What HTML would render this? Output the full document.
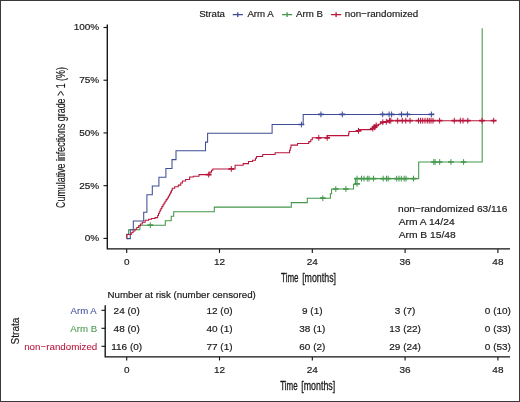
<!DOCTYPE html>
<html><head><meta charset="utf-8"><title>Cumulative infections</title>
<style>
html,body{margin:0;padding:0;background:#fff;}
body{width:520px;height:402px;overflow:hidden;}
svg{display:block;font-family:"Liberation Sans",sans-serif;will-change:transform;}
</style></head><body>
<svg width="520" height="402" viewBox="0 0 520 402">
<rect x="0" y="0" width="520" height="402" fill="#fff"/>
<rect x="0.5" y="0.5" width="519" height="401" fill="none" stroke="#3a3a3a" stroke-width="1"/>
<text x="199.16" y="17.10" font-size="9.9" fill="#1a1a1a" textLength="25.83" lengthAdjust="spacingAndGlyphs" stroke="#1a1a1a" stroke-width="0.18">Strata</text>
<path d="M232.7,14.6h10.2M237.79999999999998,12.2v4.8" stroke="#3F4D98" stroke-width="1.3" fill="none"/>
<text x="247.38" y="17.10" font-size="9.9" fill="#1a1a1a" textLength="26.44" lengthAdjust="spacingAndGlyphs" stroke="#1a1a1a" stroke-width="0.18">Arm A</text>
<path d="M282.0,14.6h10.2M287.1,12.2v4.8" stroke="#43984A" stroke-width="1.3" fill="none"/>
<text x="295.98" y="17.10" font-size="9.9" fill="#1a1a1a" textLength="26.92" lengthAdjust="spacingAndGlyphs" stroke="#1a1a1a" stroke-width="0.18">Arm B</text>
<path d="M331.0,14.6h10.2M336.1,12.2v4.8" stroke="#B8163C" stroke-width="1.3" fill="none"/>
<text x="344.75" y="17.10" font-size="9.9" fill="#1a1a1a" textLength="73.48" lengthAdjust="spacingAndGlyphs" stroke="#1a1a1a" stroke-width="0.18">non−randomized</text>
<path d="M107.3,24.5V248.9H510" stroke="#111" stroke-width="1.35" fill="none"/>
<path d="M103.5,238.40H107.3" stroke="#111" stroke-width="1.1"/>
<text x="84.80" y="241.30" font-size="9.5" fill="#1a1a1a" textLength="14.45" lengthAdjust="spacingAndGlyphs" stroke="#1a1a1a" stroke-width="0.18">0%</text>
<path d="M103.5,185.68H107.3" stroke="#111" stroke-width="1.1"/>
<text x="79.24" y="188.58" font-size="9.5" fill="#1a1a1a" textLength="20.01" lengthAdjust="spacingAndGlyphs" stroke="#1a1a1a" stroke-width="0.18">25%</text>
<path d="M103.5,132.95H107.3" stroke="#111" stroke-width="1.1"/>
<text x="79.24" y="135.85" font-size="9.5" fill="#1a1a1a" textLength="20.01" lengthAdjust="spacingAndGlyphs" stroke="#1a1a1a" stroke-width="0.18">50%</text>
<path d="M103.5,80.22H107.3" stroke="#111" stroke-width="1.1"/>
<text x="79.24" y="83.12" font-size="9.5" fill="#1a1a1a" textLength="20.01" lengthAdjust="spacingAndGlyphs" stroke="#1a1a1a" stroke-width="0.18">75%</text>
<path d="M103.5,27.50H107.3" stroke="#111" stroke-width="1.1"/>
<text x="73.68" y="30.40" font-size="9.5" fill="#1a1a1a" textLength="25.58" lengthAdjust="spacingAndGlyphs" stroke="#1a1a1a" stroke-width="0.18">100%</text>
<path d="M126.70,248.9V252.9" stroke="#111" stroke-width="1.1"/>
<text x="123.92" y="265.00" font-size="9.6" fill="#1a1a1a" textLength="5.56" lengthAdjust="spacingAndGlyphs" stroke="#1a1a1a" stroke-width="0.18">0</text>
<path d="M219.50,248.9V252.9" stroke="#111" stroke-width="1.1"/>
<text x="213.94" y="265.00" font-size="9.6" fill="#1a1a1a" textLength="11.12" lengthAdjust="spacingAndGlyphs" stroke="#1a1a1a" stroke-width="0.18">12</text>
<path d="M312.30,248.9V252.9" stroke="#111" stroke-width="1.1"/>
<text x="306.74" y="265.00" font-size="9.6" fill="#1a1a1a" textLength="11.12" lengthAdjust="spacingAndGlyphs" stroke="#1a1a1a" stroke-width="0.18">24</text>
<path d="M405.10,248.9V252.9" stroke="#111" stroke-width="1.1"/>
<text x="399.54" y="265.00" font-size="9.6" fill="#1a1a1a" textLength="11.12" lengthAdjust="spacingAndGlyphs" stroke="#1a1a1a" stroke-width="0.18">36</text>
<path d="M497.90,248.9V252.9" stroke="#111" stroke-width="1.1"/>
<text x="492.34" y="265.00" font-size="9.6" fill="#1a1a1a" textLength="11.12" lengthAdjust="spacingAndGlyphs" stroke="#1a1a1a" stroke-width="0.18">48</text>
<text x="281.12" y="282.20" font-size="12.2" fill="#1a1a1a" textLength="17.43" lengthAdjust="spacingAndGlyphs" stroke="#1a1a1a" stroke-width="0.3">Time</text>
<text x="302.17" y="282.20" font-size="12.2" fill="#1a1a1a" textLength="33.85" lengthAdjust="spacingAndGlyphs" stroke="#1a1a1a" stroke-width="0.3">[months]</text>
<g transform="translate(65.4,137.6) rotate(-90)"><text x="-70.34" y="0.00" font-size="12.3" fill="#1a1a1a" textLength="140.79" lengthAdjust="spacingAndGlyphs" stroke="#1a1a1a" stroke-width="0.15">Cumulative infections grade &gt; 1 (%)</text></g>
<path d="M126.70,238.60H127.00V234.20H128.60V229.80H139.90V225.20H165.30V220.80H171.20V216.20H173.70V211.70H214.30V207.10H291.30V202.60H307.30V198.20H330.40V193.80H331.60V189.00H353.50V184.20H355.40V178.60H418.70V162.00H482.20V28.20" stroke="#43984A" stroke-width="1.05" fill="none"/>
<path d="M147.40,225.20h5.80M319.90,198.20h5.80M332.90,189.00h5.80M343.00,189.00h5.80M354.10,183.80h5.80M354.10,178.60h5.80M358.60,178.60h5.80M361.10,178.60h5.80M364.40,178.60h5.80M366.10,178.60h5.80M370.60,178.60h5.80M380.30,178.60h5.80M383.60,178.60h5.80M385.30,178.60h5.80M393.80,178.60h5.80M396.10,178.60h5.80M398.40,178.60h5.80M401.30,178.60h5.80M403.10,178.60h5.80M410.60,178.60h5.80M430.90,162.00h5.80M432.20,162.00h5.80M436.80,162.00h5.80M448.00,162.00h5.80M460.70,162.00h5.80" stroke="#43984A" stroke-width="1.7" fill="none"/><path d="M150.30,222.30v5.80M322.80,195.30v5.80M335.80,186.10v5.80M345.90,186.10v5.80M357.00,180.90v5.80M357.00,175.70v5.80M361.50,175.70v5.80M364.00,175.70v5.80M367.30,175.70v5.80M369.00,175.70v5.80M373.50,175.70v5.80M383.20,175.70v5.80M386.50,175.70v5.80M388.20,175.70v5.80M396.70,175.70v5.80M399.00,175.70v5.80M401.30,175.70v5.80M404.20,175.70v5.80M406.00,175.70v5.80M413.50,175.70v5.80M433.80,159.10v5.80M435.10,159.10v5.80M439.70,159.10v5.80M450.90,159.10v5.80M463.60,159.10v5.80" stroke="#43984A" stroke-width="1.0" fill="none"/>
<path d="M126.70,238.60H130.30V229.80H133.30V221.00H143.70V212.30H146.90V194.70H152.30V185.90H158.90V177.20H165.90V168.40H172.00V159.60H176.00V150.80H205.50V142.10H207.60V133.30H272.10V124.50H303.20V114.40H431.40" stroke="#3F4D98" stroke-width="1.05" fill="none"/>
<path d="M298.50,124.50h5.80M318.00,114.40h5.80M339.40,114.40h5.80M379.80,114.40h5.80M386.20,114.40h5.80M388.70,114.40h5.80M398.60,114.40h5.80M404.50,114.40h5.80M428.50,114.40h5.80" stroke="#3F4D98" stroke-width="1.7" fill="none"/><path d="M301.40,121.60v5.80M320.90,111.50v5.80M342.30,111.50v5.80M382.70,111.50v5.80M389.10,111.50v5.80M391.60,111.50v5.80M401.50,111.50v5.80M407.40,111.50v5.80M431.40,111.50v5.80" stroke="#3F4D98" stroke-width="1.0" fill="none"/>
<path d="M126.70,238.60V234.50H130.30H131.22V232.74H133.06V230.99H134.91V229.23H136.75V227.47H138.59V225.71H140.44V223.96H142.28V222.20H143.20H145.15V220.30H147.10H148.55V219.30H150.00H151.40V218.40H152.80H155.05V217.60H157.30H157.70V215.50H158.50V213.40H158.90H159.30V211.77H160.10V210.13H160.90V208.50H161.30H161.85V206.63H162.95V204.77H164.05V202.90H164.60H165.13V201.27H166.20V199.63H167.27V198.00H167.80H168.40V196.00H169.60V194.00H170.20H170.62V192.10H171.45V190.20H172.28V188.30H172.70H174.70V186.70H176.70H178.30V185.10H179.90H180.72V183.05H182.38V181.00H183.20H185.60V179.40H188.00H189.65V177.00H191.30H193.30V176.20H195.30H199.00H199.00V174.60H209.80V172.10H211.50V170.20H212.80V168.90H235.10V165.30H243.20V163.60H248.50V161.50H252.60V160.20H255.50V158.20H256.50V156.40H262.70V154.50H275.10V152.80H289.60V150.20H290.30V147.70H291.00V145.10H297.50V143.40H308.80V141.60H310.80V139.80H312.30V137.80H327.20V135.60H348.60V133.60H349.00V131.50H358.50V129.60H372.30V128.30H374.30V126.80H376.30V125.40H378.30V124.20H380.30V123.20H383.00V122.00H386.50V121.20H390.00V120.70H495.5" stroke="#B8163C" stroke-width="1.05" fill="none"/>
<path d="M205.80,174.60h5.80M228.40,168.90h5.80M315.90,137.80h5.80M324.30,137.80h5.80M355.60,130.80h5.80M369.90,128.60h5.80M371.70,127.20h5.80M373.30,125.40h5.80M379.90,122.20h5.80M383.40,121.80h5.80M386.60,120.70h5.80M387.90,120.70h5.80M394.80,120.70h5.80M399.40,120.70h5.80M402.90,120.70h5.80M407.10,120.70h5.80M415.60,120.70h5.80M417.70,120.70h5.80M419.80,120.70h5.80M422.10,120.70h5.80M424.40,120.70h5.80M426.30,120.70h5.80M428.10,120.70h5.80M430.10,120.70h5.80M436.70,120.70h5.80M451.40,120.70h5.80M457.40,120.70h5.80M460.10,120.70h5.80M464.90,120.70h5.80M479.10,120.70h5.80M490.80,120.70h5.80" stroke="#B8163C" stroke-width="1.7" fill="none"/><path d="M208.70,171.70v5.80M231.30,166.00v5.80M318.80,134.90v5.80M327.20,134.90v5.80M358.50,127.90v5.80M372.80,125.70v5.80M374.60,124.30v5.80M376.20,122.50v5.80M382.80,119.30v5.80M386.30,118.90v5.80M389.50,117.80v5.80M390.80,117.80v5.80M397.70,117.80v5.80M402.30,117.80v5.80M405.80,117.80v5.80M410.00,117.80v5.80M418.50,117.80v5.80M420.60,117.80v5.80M422.70,117.80v5.80M425.00,117.80v5.80M427.30,117.80v5.80M429.20,117.80v5.80M431.00,117.80v5.80M433.00,117.80v5.80M439.60,117.80v5.80M454.30,117.80v5.80M460.30,117.80v5.80M463.00,117.80v5.80M467.80,117.80v5.80M482.00,117.80v5.80M493.70,117.80v5.80" stroke="#B8163C" stroke-width="1.0" fill="none"/>
<text x="398.03" y="211.70" font-size="9.6" fill="#1a1a1a" textLength="109.31" lengthAdjust="spacingAndGlyphs" stroke="#1a1a1a" stroke-width="0.18">non−randomized 63/116</text>
<text x="398.68" y="224.80" font-size="9.6" fill="#1a1a1a" textLength="55.92" lengthAdjust="spacingAndGlyphs" stroke="#1a1a1a" stroke-width="0.18">Arm A 14/24</text>
<text x="398.68" y="237.90" font-size="9.6" fill="#1a1a1a" textLength="57.06" lengthAdjust="spacingAndGlyphs" stroke="#1a1a1a" stroke-width="0.18">Arm B 15/48</text>
<text x="107.50" y="297.90" font-size="9.6" fill="#1a1a1a" textLength="148.30" lengthAdjust="spacingAndGlyphs" stroke="#1a1a1a" stroke-width="0.18">Number at risk (number censored)</text>
<path d="M105.2,305.2V356.9H510" stroke="#111" stroke-width="1.35" fill="none"/>
<path d="M101.5,310.3H105.2" stroke="#111" stroke-width="1.1"/>
<text x="70.58" y="313.50" font-size="9.4" fill="#3F4D98" textLength="26.14" lengthAdjust="spacingAndGlyphs" stroke="#3F4D98" stroke-width="0.06">Arm A</text>
<text x="113.64" y="313.60" font-size="9.5" fill="#1a1a1a" textLength="26.12" lengthAdjust="spacingAndGlyphs" stroke="#1a1a1a" stroke-width="0.18">24 (0)</text>
<text x="206.44" y="313.60" font-size="9.5" fill="#1a1a1a" textLength="26.12" lengthAdjust="spacingAndGlyphs" stroke="#1a1a1a" stroke-width="0.18">12 (0)</text>
<text x="302.02" y="313.60" font-size="9.5" fill="#1a1a1a" textLength="20.56" lengthAdjust="spacingAndGlyphs" stroke="#1a1a1a" stroke-width="0.18">9 (1)</text>
<text x="394.82" y="313.60" font-size="9.5" fill="#1a1a1a" textLength="20.56" lengthAdjust="spacingAndGlyphs" stroke="#1a1a1a" stroke-width="0.18">3 (7)</text>
<text x="484.84" y="313.60" font-size="9.5" fill="#1a1a1a" textLength="26.12" lengthAdjust="spacingAndGlyphs" stroke="#1a1a1a" stroke-width="0.18">0 (10)</text>
<path d="M101.5,328.3H105.2" stroke="#111" stroke-width="1.1"/>
<text x="70.28" y="331.50" font-size="9.4" fill="#43984A" textLength="26.92" lengthAdjust="spacingAndGlyphs" stroke="#43984A" stroke-width="0.06">Arm B</text>
<text x="113.64" y="331.60" font-size="9.5" fill="#1a1a1a" textLength="26.12" lengthAdjust="spacingAndGlyphs" stroke="#1a1a1a" stroke-width="0.18">48 (0)</text>
<text x="206.44" y="331.60" font-size="9.5" fill="#1a1a1a" textLength="26.12" lengthAdjust="spacingAndGlyphs" stroke="#1a1a1a" stroke-width="0.18">40 (1)</text>
<text x="299.24" y="331.60" font-size="9.5" fill="#1a1a1a" textLength="26.12" lengthAdjust="spacingAndGlyphs" stroke="#1a1a1a" stroke-width="0.18">38 (1)</text>
<text x="389.26" y="331.60" font-size="9.5" fill="#1a1a1a" textLength="31.68" lengthAdjust="spacingAndGlyphs" stroke="#1a1a1a" stroke-width="0.18">13 (22)</text>
<text x="484.84" y="331.60" font-size="9.5" fill="#1a1a1a" textLength="26.12" lengthAdjust="spacingAndGlyphs" stroke="#1a1a1a" stroke-width="0.18">0 (33)</text>
<path d="M101.5,346.3H105.2" stroke="#111" stroke-width="1.1"/>
<text x="24.15" y="349.50" font-size="9.4" fill="#B8163C" textLength="73.18" lengthAdjust="spacingAndGlyphs" stroke="#B8163C" stroke-width="0.06">non−randomized</text>
<text x="111.23" y="349.60" font-size="9.5" fill="#1a1a1a" textLength="30.94" lengthAdjust="spacingAndGlyphs" stroke="#1a1a1a" stroke-width="0.18">116 (0)</text>
<text x="206.44" y="349.60" font-size="9.5" fill="#1a1a1a" textLength="26.12" lengthAdjust="spacingAndGlyphs" stroke="#1a1a1a" stroke-width="0.18">77 (1)</text>
<text x="299.24" y="349.60" font-size="9.5" fill="#1a1a1a" textLength="26.12" lengthAdjust="spacingAndGlyphs" stroke="#1a1a1a" stroke-width="0.18">60 (2)</text>
<text x="389.26" y="349.60" font-size="9.5" fill="#1a1a1a" textLength="31.68" lengthAdjust="spacingAndGlyphs" stroke="#1a1a1a" stroke-width="0.18">29 (24)</text>
<text x="484.84" y="349.60" font-size="9.5" fill="#1a1a1a" textLength="26.12" lengthAdjust="spacingAndGlyphs" stroke="#1a1a1a" stroke-width="0.18">0 (53)</text>
<path d="M126.70,356.9V360.5" stroke="#111" stroke-width="1.1"/>
<text x="123.92" y="372.90" font-size="9.5" fill="#1a1a1a" textLength="5.56" lengthAdjust="spacingAndGlyphs" stroke="#1a1a1a" stroke-width="0.18">0</text>
<path d="M219.50,356.9V360.5" stroke="#111" stroke-width="1.1"/>
<text x="213.94" y="372.90" font-size="9.5" fill="#1a1a1a" textLength="11.12" lengthAdjust="spacingAndGlyphs" stroke="#1a1a1a" stroke-width="0.18">12</text>
<path d="M312.30,356.9V360.5" stroke="#111" stroke-width="1.1"/>
<text x="306.74" y="372.90" font-size="9.5" fill="#1a1a1a" textLength="11.12" lengthAdjust="spacingAndGlyphs" stroke="#1a1a1a" stroke-width="0.18">24</text>
<path d="M405.10,356.9V360.5" stroke="#111" stroke-width="1.1"/>
<text x="399.54" y="372.90" font-size="9.5" fill="#1a1a1a" textLength="11.12" lengthAdjust="spacingAndGlyphs" stroke="#1a1a1a" stroke-width="0.18">36</text>
<path d="M497.90,356.9V360.5" stroke="#111" stroke-width="1.1"/>
<text x="492.34" y="372.90" font-size="9.5" fill="#1a1a1a" textLength="11.12" lengthAdjust="spacingAndGlyphs" stroke="#1a1a1a" stroke-width="0.18">48</text>
<text x="280.22" y="390.30" font-size="12.2" fill="#1a1a1a" textLength="17.43" lengthAdjust="spacingAndGlyphs" stroke="#1a1a1a" stroke-width="0.3">Time</text>
<text x="301.27" y="390.30" font-size="12.2" fill="#1a1a1a" textLength="33.96" lengthAdjust="spacingAndGlyphs" stroke="#1a1a1a" stroke-width="0.3">[months]</text>
<g transform="translate(18.5,330.8) rotate(-90)"><text x="-13.65" y="0.00" font-size="10.6" fill="#1a1a1a" textLength="26.84" lengthAdjust="spacingAndGlyphs" stroke="#1a1a1a" stroke-width="0.18">Strata</text></g>
</svg>
</body></html>
